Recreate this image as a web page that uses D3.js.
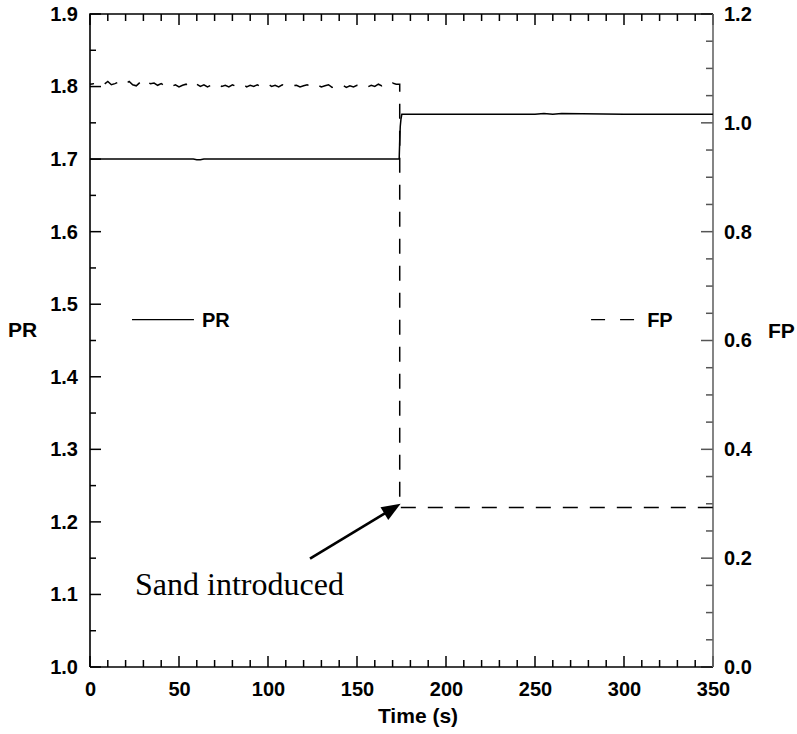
<!DOCTYPE html>
<html>
<head>
<meta charset="utf-8">
<script src="https://cdn.jsdelivr.net/npm/d3@7/dist/d3.min.js"></script>
<style>
html,body{margin:0;padding:0;background:#fff;}
svg{display:block;}
</style>
</head>
<body>
<svg id="chart" width="797" height="734"></svg>
<script>
// ---- data ----
const prTime = [0, 20, 40, 58, 60, 62, 64, 100, 140, 172, 173.7, 174.0, 174.3, 174.7, 175.2, 200, 250, 255, 260, 265, 300, 350];
const prValue = [1.700, 1.700, 1.700, 1.700, 1.699, 1.699, 1.700, 1.700, 1.700, 1.700, 1.700, 1.725, 1.745, 1.755, 1.762, 1.762, 1.762, 1.763, 1.762, 1.763, 1.762, 1.762];

const fpTime = [0,2,4,6,8,10,12,14,16,18,20,22,24,26,28,30,32,34,36,38,40,42,44,46,48,50,52,54,56,58,60,62,64,66,68,70,72,74,76,78,80,82,84,86,88,90,92,94,96,98,100,102,104,106,108,110,112,114,116,118,120,122,124,126,128,130,132,134,136,138,140,142,144,146,148,150,152,154,156,158,160,162,164,166,168,170,172,174,174,174.8,350];
const fpValue = [1.071,1.072,1.070,1.074,1.071,1.076,1.070,1.072,1.075,1.070,
  1.072,1.076,1.070,1.068,1.074,1.069,1.075,1.072,1.073,1.069,
  1.072,1.068,1.071,1.067,1.070,1.066,1.069,1.071,1.065,1.069,
  1.071,1.067,1.070,1.066,1.069,1.067,1.071,1.067,1.069,1.066,
  1.070,1.067,1.069,1.071,1.066,1.069,1.067,1.070,1.066,1.069,
  1.071,1.067,1.069,1.066,1.070,1.067,1.065,1.068,1.069,1.066,
  1.068,1.070,1.067,1.065,1.069,1.066,1.068,1.070,1.065,1.068,
  1.066,1.069,1.065,1.068,1.066,1.069,1.067,1.070,1.066,1.069,
  1.067,1.071,1.068,1.072,1.069,1.073,1.071,1.071,0.293,0.293,0.293];

const xTicks = [0, 50, 100, 150, 200, 250, 300, 350];
const xMinor = [10, 20, 30, 40, 60, 70, 80, 90, 110, 120, 130, 140, 160, 170, 180, 190, 210, 220, 230, 240, 260, 270, 280, 290, 310, 320, 330, 340];
const prTicks = [1.0, 1.1, 1.2, 1.3, 1.4, 1.5, 1.6, 1.7, 1.8, 1.9];
const prMinor = [1.05, 1.15, 1.25, 1.35, 1.45, 1.55, 1.65, 1.75, 1.85];
const fpTicks = [0.0, 0.2, 0.4, 0.6, 0.8, 1.0, 1.2];
const fpMinor = [0.05, 0.1, 0.15, 0.25, 0.3, 0.35, 0.45, 0.5, 0.55, 0.65, 0.7, 0.75, 0.85, 0.9, 0.95, 1.05, 1.1, 1.15];

// annotation (data coordinates: time, FP)
const arrowFrom = [123.6, 0.199];
const arrowTo = [174.5, 0.300];
const annoText = "Sand introduced";
const annoPos = [25.3, 0.133];

// ---- layout ----
const L = 90, R = 713, T = 14, B = 667;
const svg = d3.select("#chart");
const font = "'Liberation Sans', Arial, sans-serif";

const x = d3.scaleLinear().domain([0, 350]).range([L, R]);
const yL = d3.scaleLinear().domain([1.0, 1.9]).range([B, T]);
const yR = d3.scaleLinear().domain([0, 1.2]).range([B, T]);

const tickG = svg.append("g").attr("class", "ticks");
function vTicks(vals, y0, len, color) {
  tickG.selectAll(null).data(vals).enter().append("line")
    .attr("x1", d => x(d)).attr("x2", d => x(d))
    .attr("y1", y0).attr("y2", y0 + len)
    .attr("stroke", color).attr("stroke-width", 1.5);
}
function hTicks(vals, scale, x0, len, color) {
  tickG.selectAll(null).data(vals).enter().append("line")
    .attr("y1", d => scale(d)).attr("y2", d => scale(d))
    .attr("x1", x0).attr("x2", x0 + len)
    .attr("stroke", color).attr("stroke-width", 1.5);
}
vTicks(xMinor, B, -7, "#000");
vTicks(xTicks, B, -11, "#000");
vTicks(xMinor, T, 7, "#000");
vTicks(xTicks, T, 11, "#000");
hTicks(prMinor, yL, L, 6, "#000");
hTicks(prTicks, yL, L, 11, "#000");
hTicks(fpMinor, yR, R, -7, "#555");
hTicks(fpTicks, yR, R, -12, "#555");

// tick labels via d3 axes (domain and tick lines hidden)
function labelAxis(g) {
  g.select(".domain").remove();
  g.selectAll(".tick line").remove();
  g.selectAll("text").attr("font-family", font).attr("font-weight", "bold")
    .attr("font-size", 20).attr("fill", "#000");
}
svg.append("g").attr("transform", `translate(0,${B})`)
  .call(d3.axisBottom(x).tickValues(xTicks).tickSize(0).tickPadding(15).tickFormat(d3.format("d")))
  .call(labelAxis);
svg.append("g").attr("transform", `translate(${L},0)`)
  .call(d3.axisLeft(yL).tickValues(prTicks).tickSize(0).tickPadding(12).tickFormat(d3.format(".1f")))
  .call(labelAxis);
svg.append("g").attr("transform", `translate(${R},0)`)
  .call(d3.axisRight(yR).tickValues(fpTicks).tickSize(0).tickPadding(11).tickFormat(d3.format(".1f")))
  .call(labelAxis);

// frame
svg.append("path").attr("d", `M${L},${B}V${T}H${R}`).attr("fill", "none").attr("stroke", "#000").attr("stroke-width", 1.6);
svg.append("path").attr("d", `M${L},${B}H${R}`).attr("fill", "none").attr("stroke", "#000").attr("stroke-width", 1.6);
svg.append("path").attr("d", `M${R},${T}V${B}`).attr("fill", "none").attr("stroke", "#666").attr("stroke-width", 1.6);

// PR line
const prData = prTime.map((t, i) => [t, prValue[i]]);
svg.append("path").datum(prData)
  .attr("d", d3.line().x(d => x(d[0])).y(d => yL(d[1])))
  .attr("fill", "none").attr("stroke", "#000").attr("stroke-width", 1.5);

// FP line
const fpData = fpTime.map((t, i) => [t, fpValue[i]]);
svg.append("path").datum(fpData)
  .attr("d", d3.line().x(d => x(d[0])).y(d => yR(d[1])))
  .attr("fill", "none").attr("stroke", "#000").attr("stroke-width", 1.5)
  .attr("stroke-dasharray", "15,12").attr("stroke-dashoffset", 11);

// legend
const legY = yL(1.4789);
svg.append("line").attr("x1", x(23.6)).attr("x2", x(58.4)).attr("y1", legY).attr("y2", legY)
  .attr("stroke", "#000").attr("stroke-width", 1.3);
svg.append("text").attr("x", x(62.9)).attr("y", legY).attr("dy", "0.35em")
  .attr("font-family", font).attr("font-weight", "bold").attr("font-size", 20).text("PR");
svg.append("line").attr("x1", x(281.5)).attr("x2", x(306)).attr("y1", legY).attr("y2", legY)
  .attr("stroke", "#000").attr("stroke-width", 1.3).attr("stroke-dasharray", "14,15");
svg.append("text").attr("x", x(313)).attr("y", legY).attr("dy", "0.35em")
  .attr("font-family", font).attr("font-weight", "bold").attr("font-size", 20).text("FP");

// axis titles
svg.append("text").attr("x", 8).attr("y", 330).attr("dy", "0.35em")
  .attr("font-family", font).attr("font-weight", "bold").attr("font-size", 21).text("PR");
svg.append("text").attr("x", 768).attr("y", 331).attr("dy", "0.35em")
  .attr("font-family", font).attr("font-weight", "bold").attr("font-size", 21).text("FP");
svg.append("text").attr("x", 418).attr("y", 716).attr("dy", "0.35em").attr("text-anchor", "middle")
  .attr("font-family", font).attr("font-weight", "bold").attr("font-size", 21).text("Time (s)");

// annotation arrow
const ax0 = x(arrowFrom[0]), ay0 = yR(arrowFrom[1]);
const ax1 = x(arrowTo[0]), ay1 = yR(arrowTo[1]);
const ang = Math.atan2(ay1 - ay0, ax1 - ax0);
const headLen = 19, headW = 7.5;
const bx = ax1 - headLen * Math.cos(ang), by = ay1 - headLen * Math.sin(ang);
svg.append("line").attr("x1", ax0).attr("y1", ay0).attr("x2", bx + 2 * Math.cos(ang)).attr("y2", by + 2 * Math.sin(ang))
  .attr("stroke", "#000").attr("stroke-width", 2.6);
svg.append("path")
  .attr("d", `M${ax1},${ay1}L${bx - headW * Math.sin(ang)},${by + headW * Math.cos(ang)}L${bx + headW * Math.sin(ang)},${by - headW * Math.cos(ang)}Z`)
  .attr("fill", "#000");
svg.append("text").attr("x", x(annoPos[0])).attr("y", yR(annoPos[1]))
  .attr("font-family", "'Liberation Serif', 'Times New Roman', serif").attr("font-size", 32).text(annoText);
</script>
</body>
</html>
